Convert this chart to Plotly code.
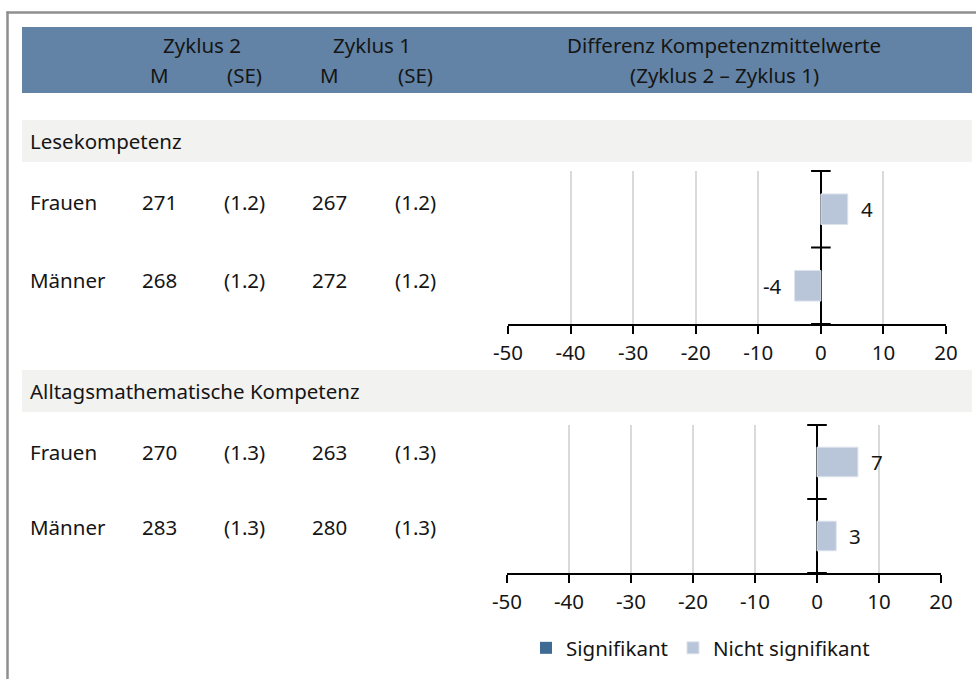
import plotly.graph_objects as go

W, H = 976, 679

# ---------------- data ----------------
sections = ["Lesekompetenz", "Alltagsmathematische Kompetenz"]
groups = ["Frauen", "Männer"]
m_zyklus2 = [[271, 268], [270, 283]]
se_zyklus2 = [[1.2, 1.2], [1.3, 1.3]]
m_zyklus1 = [[267, 272], [263, 280]]
se_zyklus1 = [[1.2, 1.2], [1.3, 1.3]]
differenz = [[4.3, -4.2], [6.6, 3.1]]
differenz_label = ["4", "-4", "7", "3"]
signifikant = [[False, False], [False, False]]
x_ticks = [-50, -40, -30, -20, -10, 0, 10, 20]
header_top = ["Zyklus 2", "Zyklus 1", "Differenz Kompetenzmittelwerte"]
header_sub = ["M", "(SE)", "M", "(SE)", "(Zyklus 2 – Zyklus 1)"]
legend_names = ["Signifikant", "Nicht signifikant"]

# ---------------- style ----------------
FONT = "Noto Sans"
FS = 20.5
TXT = "#151515"
DARK = "#3e6a94"
LIGHT = "#b9c5d8"
HEAD_BG = "#6283a5"
SEC_BG = "#f2f2f0"
GRID = "#dadada"
FRAME = "#8f8f8f"


def px(x):
    return min(max(x / W, 0), 1)


def py(y):
    return min(max(1 - y / H, 0), 1)


band_top = [120, 370]
band_h = 42
row_y = [[202, 280], [452, 527]]
col_x = [159, 244, 329, 415]
chart_x = [(508, 946), (507, 941)]
chart_y = [(171, 324), (425, 573)]

fig = go.Figure()
shapes = []
annotations = []

# frame (top and left edges; the rest lies outside the picture)
shapes.append(dict(type="line", xref="paper", yref="paper", x0=px(6.5), x1=1,
                   y0=py(12.5), y1=py(12.5), line=dict(color=FRAME, width=2.5)))
shapes.append(dict(type="line", xref="paper", yref="paper", x0=px(7.5), x1=px(7.5),
                   y0=py(11.5), y1=0, line=dict(color=FRAME, width=2.5)))
# header band
shapes.append(dict(type="rect", xref="paper", yref="paper", x0=px(22), x1=px(972),
                   y0=py(93), y1=py(27), fillcolor=HEAD_BG, line=dict(width=0), layer="below"))


def ann(text, x, y, xanchor="center", size=FS, color=TXT, **kw):
    d = dict(text=text, x=x, y=y, xref="paper", yref="paper", xanchor=xanchor,
             yanchor="middle", showarrow=False, borderpad=0, borderwidth=0,
             font=dict(family=FONT, size=size, color=color))
    d.update(kw)
    annotations.append(d)


ann(header_top[0], px(202), py(45))
ann(header_top[1], px(372), py(45))
ann(header_top[2], px(724), py(45))
for i, t in enumerate(header_sub[:4]):
    ann(t, px(col_x[i]), py(75))
ann(header_sub[4], px(724), py(75))

k = 0
for s, sec in enumerate(sections):
    suf = "" if s == 0 else str(s + 1)
    xa = "x" + suf
    ya = "y" + suf
    shapes.append(dict(type="rect", xref="paper", yref="paper", x0=px(22), x1=px(972),
                       y0=py(band_top[s] + band_h), y1=py(band_top[s]),
                       fillcolor=SEC_BG, line=dict(width=0), layer="below"))
    ann(sec, px(30), py(band_top[s] + band_h / 2), xanchor="left")
    for g, grp in enumerate(groups):
        yy = py(row_y[s][g])
        ann(grp, px(30), yy, xanchor="left")
        ann(str(m_zyklus2[s][g]), px(col_x[0]), yy)
        ann("(%.1f)" % se_zyklus2[s][g], px(col_x[1]), yy)
        ann(str(m_zyklus1[s][g]), px(col_x[2]), yy)
        ann("(%.1f)" % se_zyklus1[s][g], px(col_x[3]), yy)

    n = len(groups)
    ypos = [n - 1 - g for g in range(n)]
    sig_vals = [d if f else None for d, f in zip(differenz[s], signifikant[s])]
    ns_vals = [None if f else d for d, f in zip(differenz[s], signifikant[s])]
    fig.add_trace(go.Bar(x=sig_vals, y=ypos, orientation="h", width=0.4,
                         marker=dict(color=DARK, line=dict(width=0)),
                         name=legend_names[0], legendgroup="sig", showlegend=(s == 0),
                         xaxis=xa, yaxis=ya, hoverinfo="skip"))
    fig.add_trace(go.Bar(x=ns_vals, y=ypos, orientation="h", width=0.4,
                         marker=dict(color=LIGHT, line=dict(width=1, color="#dde3ec")),
                         name=legend_names[1], legendgroup="ns", showlegend=(s == 0),
                         xaxis=xa, yaxis=ya, hoverinfo="skip"))
    # category separator ticks on the zero axis
    fig.add_trace(go.Scatter(x=[0] * (n + 1), y=[j - 0.5 for j in range(n + 1)], mode="markers",
                             marker=dict(symbol="line-ew", size=14,
                                         line=dict(width=2, color="black")),
                             cliponaxis=False, showlegend=False, hoverinfo="skip",
                             xaxis=xa, yaxis=ya))
    for g in range(n):
        d = differenz[s][g]
        annotations.append(dict(text=differenz_label[k], x=d, y=ypos[g], xref=xa, yref=ya,
                                xanchor="left" if d >= 0 else "right",
                                xshift=12 if d >= 0 else -12, yanchor="middle",
                                showarrow=False, borderpad=0,
                                font=dict(family=FONT, size=FS, color=TXT)))
        k += 1

    axx = dict(domain=[px(chart_x[s][0]), px(chart_x[s][1])], range=[x_ticks[0], x_ticks[-1]],
               tickvals=x_ticks, ticktext=[str(t) for t in x_ticks],
               showline=True, linecolor="black", linewidth=2,
               ticks="outside", ticklen=8, tickwidth=2, tickcolor="black",
               showgrid=True, gridcolor=GRID, gridwidth=1.5,
               zeroline=True, zerolinecolor="black", zerolinewidth=2,
               tickfont=dict(family=FONT, size=FS, color=TXT), anchor=ya,
               fixedrange=True, ticklabelstandoff=1)
    axy = dict(domain=[py(chart_y[s][1]), py(chart_y[s][0])], range=[-0.5, n - 0.5],
               showline=False, showticklabels=False, showgrid=False, zeroline=False,
               ticks="", anchor=xa, fixedrange=True)
    fig.layout["xaxis" + suf] = axx
    fig.layout["yaxis" + suf] = axy

fig.update_layout(
    width=W, height=H, margin=dict(l=0, r=0, t=0, b=0, pad=0, autoexpand=False),
    paper_bgcolor="white", plot_bgcolor="rgba(0,0,0,0)",
    shapes=shapes, annotations=annotations, barmode="overlay",
    font=dict(family=FONT, size=FS, color=TXT),
    showlegend=True,
    legend=dict(orientation="h", x=px(526), y=py(648), xanchor="left", yanchor="middle",
                traceorder="normal", font=dict(family=FONT, size=FS, color=TXT),
                bgcolor="rgba(0,0,0,0)", itemclick=False, itemdoubleclick=False),
)

fig.write_html("out.html", config={"displayModeBar": False},
               post_script="document.body.style.margin='0';document.body.style.overflow='hidden';")
